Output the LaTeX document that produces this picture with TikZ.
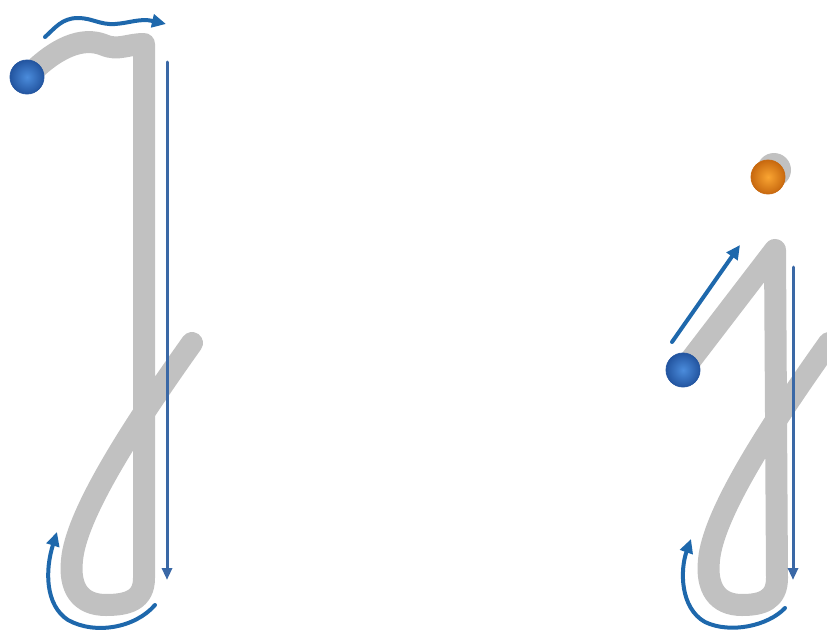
\documentclass[tikz,border=0pt]{standalone}
\usetikzlibrary{arrows.meta}
\definecolor{strokegray}{RGB}{193,193,193}
\definecolor{arrowblue}{RGB}{30,104,172}
\definecolor{lineblue}{RGB}{58,104,166}
\definecolor{ballblue}{RGB}{75,140,220}
\definecolor{ballblueedge}{RGB}{35,85,160}
\definecolor{ballorange}{RGB}{250,165,50}
\definecolor{ballorangeedge}{RGB}{200,105,15}
\begin{document}
\begin{tikzpicture}[x=1pt,y=-1pt,>={Triangle[length=14pt,width=13pt]}, line join = round, line cap = round,
	letter/.style={strokegray,line width=22pt},
	guide/.style={arrowblue,line width=4pt,->},
	downline/.style={lineblue,line width=3pt,-{Triangle[length=12pt,width=10pt]}},
	blueball/.style={inner color=ballblue,outer color=ballblueedge,draw=ballblueedge,line width=0.8pt},
	orangeball/.style={inner color=ballorange,outer color=ballorangeedge,draw=ballorangeedge,line width=0.8pt}]
	\useasboundingbox (0,0) rectangle (827,637);
	\clip (0,0) rectangle (827,637);
	% left letter
	\coordinate (S1) at (27,77);
	\coordinate (T1) at (144,44);
	\coordinate (B1) at (144,578);
	\coordinate (L1) at (72,560);
	\coordinate (E1) at (192,343);
	% right letter
	\coordinate (S2) at (683,370);
	\coordinate (T2) at (775,250);
	\coordinate (B2) at (777,578);
	\coordinate (L2) at (709,560);
	\coordinate (E2) at (829,343);
	\coordinate (D2) at (768,177);

	\draw[letter] (S1) .. controls (55,48) and (82,36) .. (104,45) .. controls (118,51) and (128,44) .. (T1) -- (B1)
		.. controls (144,600) and (128,605) .. (106,605) .. controls (80,605) and (69,588) .. (L1)
		.. controls (76,515) and (130,430) .. (E1);
	\draw[letter] (S2) -- (T2) -- (B2)
		.. controls (777,600) and (762,605) .. (742,605) .. controls (717,605) and (706,588) .. (L2)
		.. controls (713,515) and (767,430) .. (E2);

	\draw[guide] (45,37) .. controls (55,28) and (62,18) .. (78,18) .. controls (92,18) and (100,25) .. (115,24) .. controls (130,23) and (140,18) .. (166,24);
	\draw[downline] (167,62) -- (167,580);
	\draw[guide] (155,605) .. controls (135,628) and (95,635) .. (68,620) .. controls (45,605) and (45,570) .. (57,532);

	\draw[guide] (672,342) -- (740,245);
	\draw[downline] (793,267) -- (793,580);
	\draw[guide] (785,608) .. controls (768,626) and (730,634) .. (705,622) .. controls (680,608) and (680,570) .. (691,539);

	\fill[strokegray] (774,170) circle (17);
	\shade[orangeball] (D2) circle (17);
	\shade[blueball] (S1) circle (17);
	\shade[blueball] (S2) circle (17);
\end{tikzpicture}
\end{document}
